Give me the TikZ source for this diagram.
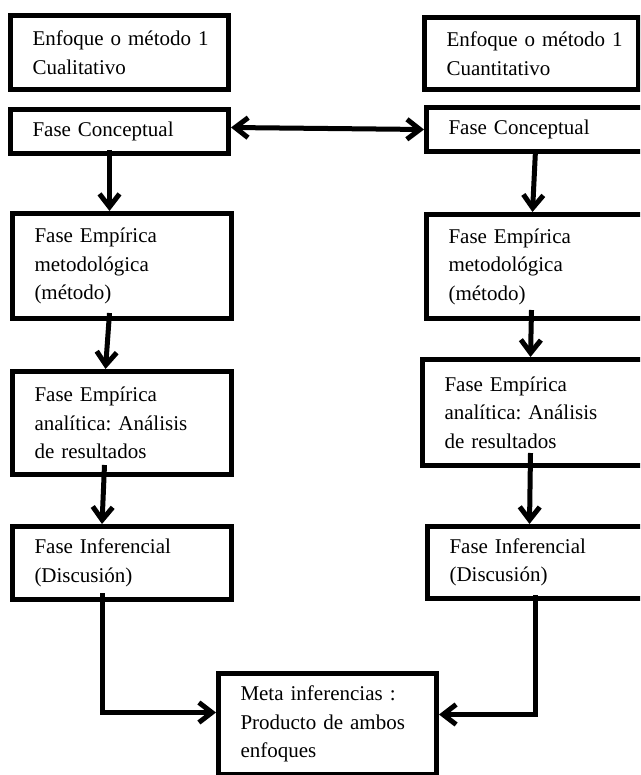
\documentclass[tikz,border=0pt]{standalone}
\usepackage{fontspec}
\setmainfont{Liberation Serif}
\usetikzlibrary{arrows.meta}
\frenchspacing
\tikzset{
  box/.style={draw, line width=5pt, inner xsep=22pt, inner ysep=0pt, align=left,
    anchor=north west, font=\fontsize{21}{28.5}\selectfont\frenchspacing},
  arr/.style={line width=5pt, -{Straight Barb[length=13pt,width=20pt]}},
  arrboth/.style={line width=5pt, {Straight Barb[length=13pt,width=20pt]}-{Straight Barb[length=13pt,width=20pt]}}
}
\begin{document}
\begin{tikzpicture}[x=1pt,y=-1pt]
\useasboundingbox[fill=white] (0,0) rectangle (640,775);
\clip (0,0) rectangle (640,775);
% left column
\node[box, text width=174pt, minimum height=74pt] (L1) at (8,13) {\mbox{Enfoque o método 1}\\Cualitativo};
\node[box, text width=174pt, minimum height=44pt] (L2) at (8,107) {Fase Conceptual};
\node[box, text width=175pt, minimum height=105pt] (L3) at (10,211) {Fase Empírica\\metodológica\\(método)};
\node[box, text width=175pt, minimum height=103pt] (L4) at (10,369) {Fase Empírica\\\mbox{analítica: Análisis}\\de resultados};
\node[box, text width=175pt, minimum height=73pt] (L5) at (10,524) {Fase Inferencial\\(Discusión)};
% right column
\node[box, text width=170pt, minimum height=72pt] (R1) at (422,15) {\mbox{Enfoque o método 1}\\Cuantitativo};
\node[box, text width=192pt, minimum height=44pt] (R2) at (424,105) {Fase Conceptual};
\node[box, text width=192pt, minimum height=104pt] (R3) at (424,212) {Fase Empírica\\metodológica\\(método)};
\node[box, text width=196pt, minimum height=106pt] (R4) at (420,357) {Fase Empírica\\\mbox{analítica: Análisis}\\de resultados};
\node[box, text width=191pt, minimum height=72pt] (R5) at (425,524) {Fase Inferencial\\(Discusión)};
% bottom
\node[box, text width=174pt, minimum height=101pt] (M) at (216,671) {Meta inferencias :\\Producto de ambos\\enfoques};
% connectors
\draw[arrboth] ([yshift=4pt]L2.east) -- (R2.west);
\draw[arr] ([xshift=-10pt,yshift=6pt]L2.south) -- ([xshift=-12.5pt]L3.north);
\draw[arr] ([xshift=-12.5pt,yshift=8pt]L3.south) -- ([xshift=-16.5pt]L4.north);
\draw[arr] ([xshift=-17.5pt,yshift=12pt]L4.south) -- ([xshift=-20pt]L5.north);
\draw[arr] ([xshift=-19.5pt,yshift=9pt]L5.south) |- ([yshift=11.5pt]M.west);
\draw[arr] ([xshift=-9pt,yshift=4pt]R2.south) -- ([xshift=-12pt]R3.north);
\draw[arr] ([xshift=-13pt,yshift=11pt]R3.south) -- ([xshift=-12pt]R4.north);
\draw[arr] ([xshift=-12pt,yshift=15pt]R4.south) -- ([xshift=-15.5pt]R5.north);
\draw[arr] ([xshift=-9.5pt,yshift=6pt]R5.south) |- ([yshift=9.5pt]M.east);
\end{tikzpicture}
\end{document}
